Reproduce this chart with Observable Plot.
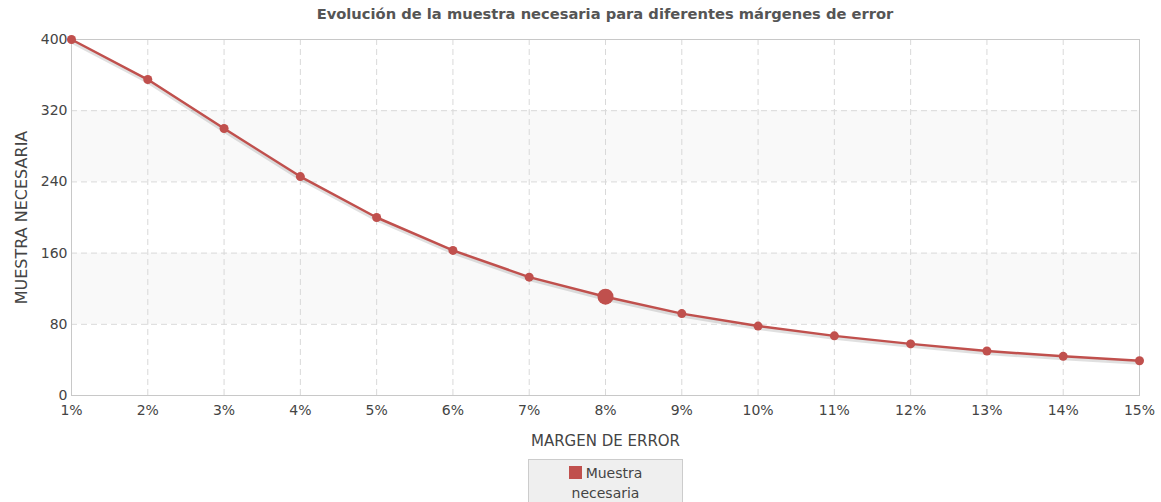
<!DOCTYPE html>
<html>
<head>
<meta charset="utf-8">
<script src="https://cdn.jsdelivr.net/npm/d3@7"></script>
<script src="https://cdn.jsdelivr.net/npm/@observablehq/plot@0.6"></script>
<style>
  html, body { margin: 0; padding: 0; background: #fff; }
  body { width: 1161px; height: 502px; overflow: hidden; font-family: "DejaVu Sans", Verdana, sans-serif; position: relative; }
  #title { height: 28px; line-height: 28px; padding-left: 71px; padding-right: 22px; text-align: center; font-weight: bold; font-size: 14.7px; color: #555; }
  #chart svg { display: block; }
  #legend { position: absolute; left: 528px; top: 459px; width: 155px; height: 44px; background: #efefef; border: 1px solid #ccc; box-sizing: border-box; text-align: center; font-size: 14px; color: #444; line-height: 20px; padding-top: 3px; }
  #legend .sw { display: inline-block; width: 13px; height: 13px; background: #c0504d; vertical-align: -1px; margin-right: 4px; }
</style>
</head>
<body>
<div id="title">Evolución de la muestra necesaria para diferentes márgenes de error</div>
<div id="chart"></div>
<div id="legend"><span class="sw"></span>Muestra<br>necesaria</div>
<script>
const margins = [1, 2, 3, 4, 5, 6, 7, 8, 9, 10, 11, 12, 13, 14, 15];
const muestra = [400, 355, 300, 246, 200, 163, 133, 111, 92, 78, 67, 58, 50, 44, 39];
const yTicks = [0, 80, 160, 240, 320, 400];
const bandLow = [80, 240];
const bandHigh = [160, 320];
const highlightMargin = 8;
const xTitle = "MARGEN DE ERROR";
const yTitle = "MUESTRA NECESARIA";

const data = margins.map((m, i) => ({m, n: muestra[i]}));
const bands = bandLow.map((lo, i) => ({lo, hi: bandHigh[i]}));
const red = "#c0504d";
const grid = {stroke: "#d9d9d9", strokeOpacity: 1, strokeDasharray: "6,4"};

const chart = Plot.plot({
  width: 1161,
  height: 425,
  marginTop: 11,
  marginBottom: 58,
  marginLeft: 71,
  marginRight: 22,
  style: {fontFamily: "DejaVu Sans, Verdana, sans-serif", fontSize: "14px", color: "#444", background: "#fff", overflow: "visible"},
  x: {type: "linear", domain: [1, 15]},
  y: {domain: [0, 400]},
  marks: [
    Plot.rect(bands, {y1: "lo", y2: "hi", fill: "#f9f9f9"}),
    Plot.gridX(margins, grid),
    Plot.gridY(yTicks, grid),
    Plot.frame({stroke: "#c8c8c8"}),
    Plot.axisX(margins, {tickSize: 0, tickPadding: 10, tickFormat: d => d + "%", label: null, fill: "#444"}),
    Plot.axisY(yTicks, {tickSize: 0, tickPadding: 4, label: null, fill: "#444"}),
    Plot.text([xTitle], {text: d => d, frameAnchor: "bottom", lineAnchor: "bottom", dy: 50, fontSize: 15, fill: "#444"}),
    Plot.text([yTitle], {text: d => d, frameAnchor: "left", rotate: -90, textAnchor: "middle", lineAnchor: "top", dx: -56, fontSize: 16, fill: "#444"}),
    Plot.line(data, {x: "m", y: "n", stroke: "#000", strokeOpacity: 0.12, strokeWidth: 4, dy: 2}),
    Plot.line(data, {x: "m", y: "n", stroke: red, strokeWidth: 2.5}),
    Plot.dot(data, {x: "m", y: "n", r: 4.5, fill: red}),
    Plot.dot(data.filter(d => d.m === highlightMargin), {x: "m", y: "n", r: 8, fill: red})
  ]
});
document.getElementById("chart").appendChild(chart);
</script>
</body>
</html>
